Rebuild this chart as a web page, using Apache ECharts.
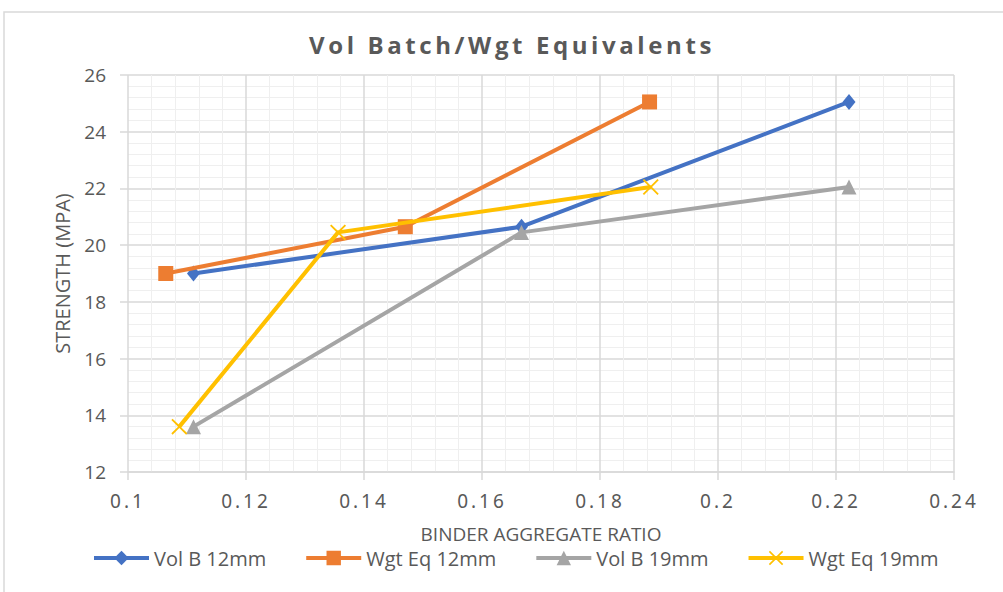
<!DOCTYPE html>
<html><head><meta charset="utf-8">
<script src="https://cdn.jsdelivr.net/npm/echarts@6/dist/echarts.min.js"></script>
<style>
html,body{margin:0;padding:0;background:#fff}
#c{width:1003px;height:592px}
#c text[style*="Noto"]{letter-spacing:3px}
#c text[style*="bold"]{letter-spacing:3.6px}
</style>
</head><body><div id="c"></div>
<script>
const seriesNames = ['Vol B 12mm', 'Wgt Eq 12mm', 'Vol B 19mm', 'Wgt Eq 19mm'];
const volB12x = [0.1111, 0.1667, 0.2222];
const volB12y = [19.0, 20.65, 25.05];
const wgtEq12x = [0.1064, 0.1470, 0.1884];
const wgtEq12y = [19.0, 20.65, 25.05];
const volB19x = [0.1111, 0.1667, 0.2222];
const volB19y = [13.6, 20.45, 22.05];
const wgtEq19x = [0.1087, 0.1356, 0.1886];
const wgtEq19y = [13.6, 20.45, 22.05];
const colors = ['#4472C4', '#ED7D31', '#A5A5A5', '#FFC000'];

const pair = (xs, ys) => xs.map((x, i) => [x, ys[i]]);
const crossPath = 'path://M0,0.8L0.8,0L5,4.2L9.2,0L10,0.8L5.8,5L10,9.2L9.2,10L5,5.8L0.8,10L0,9.2L4.2,5Z';
const symbols = ['diamond', 'rect', 'triangle', crossPath];
const sizes = [[13, 16], 15, 15, 16];
const datas = [pair(volB12x, volB12y), pair(wgtEq12x, wgtEq12y), pair(volB19x, volB19y), pair(wgtEq19x, wgtEq19y)];

const chart = echarts.init(document.getElementById('c'), null, { renderer: 'svg' });
const fam = '"Open Sans", sans-serif';
const tickFam = '"Noto Sans", sans-serif';
chart.setOption({
  animation: false,
  color: colors,
  graphic: [
    { type: 'rect', shape: { x: 4, y: 12, width: 1010, height: 600 }, style: { fill: 'none', stroke: '#d9d9d9', lineWidth: 1.5 }, silent: true, z: -1 },
    { type: 'text', x: 512, y: 32, style: { text: 'Vol Batch/Wgt Equivalents', fontFamily: fam, fontWeight: 'bold', fontSize: 24, fill: '#595959', textAlign: 'center' } }
  ],
  legend: {
    top: 543, left: 87, itemWidth: 55, itemHeight: 18, itemGap: 38,
    data: seriesNames,
    lineStyle: { width: 4 },
    textStyle: { fontFamily: fam, fontSize: 20, color: '#595959' }
  },
  grid: { left: 128, right: 49, top: 75, bottom: 120 },
  xAxis: {
    type: 'value', min: 0.1, max: 0.24, interval: 0.02,
    name: 'BINDER AGGREGATE RATIO', nameLocation: 'middle', nameGap: 52,
    nameTextStyle: { fontFamily: fam, fontSize: 19, color: '#595959' },
    axisLine: { show: true, lineStyle: { color: '#d9d9d9', width: 1.5 } },
    axisTick: { show: true, length: 8, lineStyle: { color: '#d9d9d9', width: 1.5 } },
    axisLabel: { fontFamily: tickFam, fontSize: 19, color: '#595959', margin: 19, formatter: v => String(+v.toFixed(2)) },
    splitLine: { show: true, lineStyle: { color: '#d9d9d9', width: 1.5 } },
    minorTick: { show: false, splitNumber: 5 },
    minorSplitLine: { show: true, lineStyle: { color: '#efefef', width: 1 } }
  },
  yAxis: {
    type: 'value', min: 12, max: 26, interval: 2,
    name: 'STRENGTH (MPA)', nameLocation: 'middle', nameGap: 56,
    nameTextStyle: { fontFamily: fam, fontSize: 20, color: '#595959' },
    axisLine: { show: false },
    axisTick: { show: true, length: 8, lineStyle: { color: '#d9d9d9', width: 1.5 } },
    axisLabel: { fontFamily: fam, fontSize: 19, color: '#595959', margin: 22 },
    splitLine: { show: true, lineStyle: { color: '#d9d9d9', width: 1.5 } },
    minorTick: { show: false, splitNumber: 5 },
    minorSplitLine: { show: true, lineStyle: { color: '#efefef', width: 1 } }
  },
  series: seriesNames.map((n, i) => ({
    name: n, type: 'line', data: datas[i],
    symbol: symbols[i], symbolSize: sizes[i],
    lineStyle: { width: 4, color: colors[i] },
    itemStyle: { color: colors[i] },
    z: 2 + i
  }))
});
</script></body></html>
